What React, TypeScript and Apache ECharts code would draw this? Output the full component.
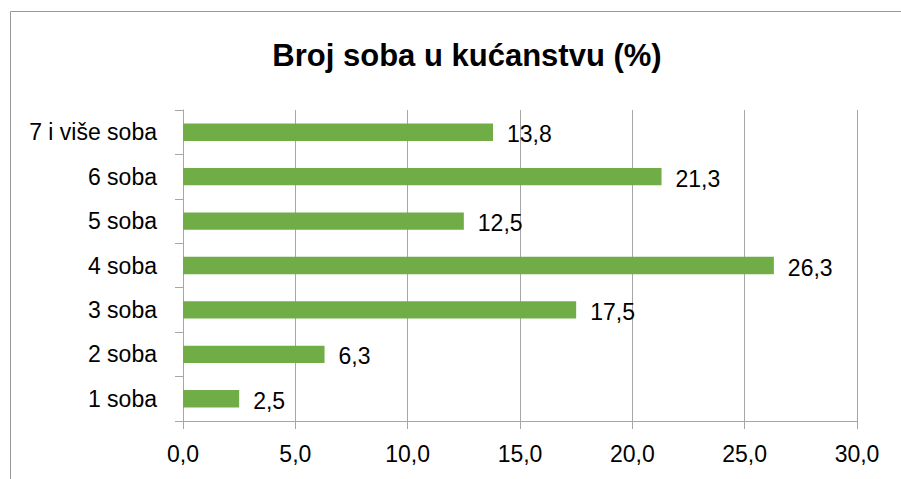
import React, { useEffect, useRef } from "react";
import * as echarts from "echarts";

const categories = ["1 soba", "2 soba", "3 soba", "4 soba", "5 soba", "6 soba", "7 i više soba"];
const values = [2.5, 6.3, 17.5, 26.3, 12.5, 21.3, 13.8];
const titleText = "Broj soba u kućanstvu (%)";

const FONT = "Liberation Sans";

export default function App() {
  const ref = useRef<HTMLDivElement>(null);
  useEffect(() => {
    document.body.style.margin = "0";
    if (!ref.current) return;
    const chart = echarts.init(ref.current, null, { renderer: "svg" });
    chart.setOption({
      animation: false,
      backgroundColor: "#ffffff",
      title: {
        text: titleText,
        left: 462,
        top: 35,
        textAlign: "center",
        textStyle: { fontFamily: FONT, fontSize: 31, fontWeight: "bold", color: "#000" },
      },
      graphic: [
        {
          type: "rect",
          shape: { x: 10.5, y: 11.5, width: 1000, height: 1000 },
          style: { fill: "none", stroke: "#999999", lineWidth: 1 },
          silent: true,
        },
      ],
      grid: { left: 183, top: 110, width: 674, height: 311, containLabel: false },
      xAxis: {
        type: "value",
        min: 0,
        max: 30,
        interval: 5,
        axisLine: { show: true, lineStyle: { color: "#a6a6a6", width: 1 } },
        axisTick: { show: true, length: 8, lineStyle: { color: "#a6a6a6" } },
        splitLine: { show: true, lineStyle: { color: "#a6a6a6", width: 1 } },
        axisLabel: {
          fontFamily: FONT,
          fontSize: 23,
          color: "#000",
          margin: 21,
          formatter: (v: number) => v.toFixed(1).replace(".", ","),
        },
      },
      yAxis: {
        type: "category",
        data: categories,
        axisLine: { show: true, lineStyle: { color: "#a6a6a6", width: 1 } },
        axisTick: { show: true, length: 8, lineStyle: { color: "#a6a6a6" } },
        axisLabel: { fontFamily: FONT, fontSize: 23, color: "#000", margin: 26 },
      },
      series: [
        {
          type: "bar",
          data: values,
          barWidth: "39%",
          itemStyle: { color: "#70ad47" },
          label: {
            show: true,
            position: "right",
            distance: 14,
            offset: [0, 2],
            fontFamily: FONT,
            fontSize: 23,
            color: "#000",
            formatter: (p: any) => Number(p.value).toFixed(1).replace(".", ","),
          },
        },
      ],
    });
    return () => chart.dispose();
  }, []);
  return <div ref={ref} style={{ width: 901, height: 479 }} />;
}
